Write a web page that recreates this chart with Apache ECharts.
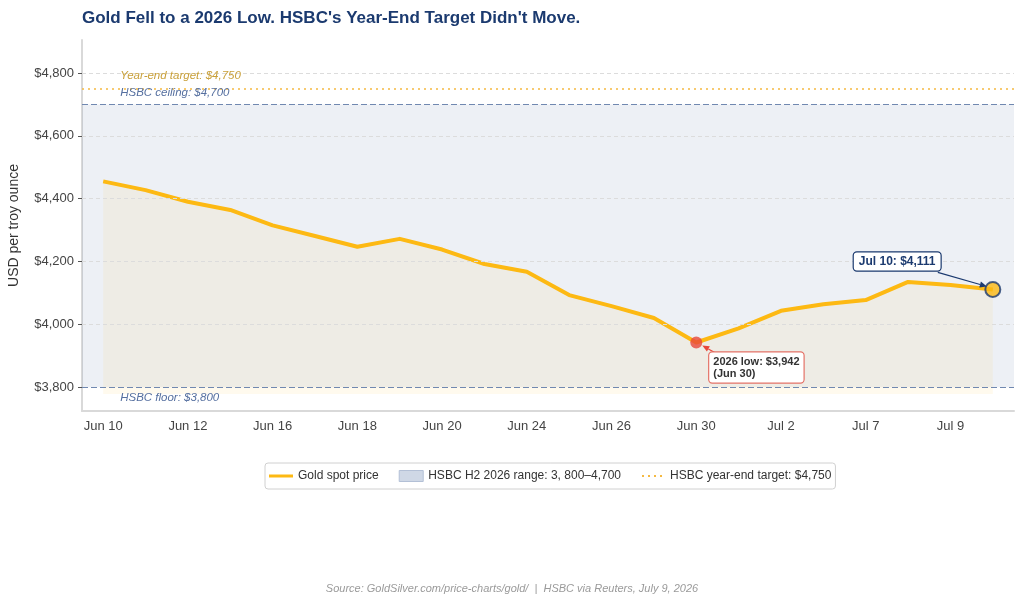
<!DOCTYPE html>
<html>
<head>
<meta charset="utf-8">
<script src="https://cdn.jsdelivr.net/npm/echarts@6/dist/echarts.min.js"></script>
<style>
  html, body { margin: 0; padding: 0; background: #fff; }
  #chart { width: 1024px; height: 604px; }
</style>
</head>
<body>
<div id="chart"></div>
<script>
// data
const dates = ['Jun 10', 'Jun 11', 'Jun 12', 'Jun 15', 'Jun 16', 'Jun 17', 'Jun 18', 'Jun 19', 'Jun 20', 'Jun 23', 'Jun 24',
  'Jun 25', 'Jun 26', 'Jun 29', 'Jun 30', 'Jul 1', 'Jul 2', 'Jul 6', 'Jul 7', 'Jul 8', 'Jul 9', 'Jul 10'];
const prices = [4455, 4427, 4390, 4364, 4315, 4281, 4247, 4272, 4238, 4192, 4167,
  4093, 4058, 4020, 3942, 3987, 4043, 4064, 4077, 4135, 4125, 4111];
const yTicks = [3800, 4000, 4200, 4400, 4600, 4800];
const rangeFloor = 3800;
const rangeCeiling = 4700;
const yearEndTarget = 4750;

const FONT = "'Liberation Sans', Arial, sans-serif";
const GOLD = '#fdb913';
const NAVY = '#1b3a6f';
const RED = '#e8473a';
const BAND_NAME = 'HSBC H2 2026 range: 3, 800\u20134,700';
const TARGET_NAME = 'HSBC year-end target: $4,750';

const fmt = v => '$' + v.toLocaleString('en-US');

const lowIdx = prices.indexOf(Math.min(...prices));
const lastIdx = prices.length - 1;

const chart = echarts.init(document.getElementById('chart'));

const option = {
  animation: false,
  textStyle: { fontFamily: FONT },
  title: [{
    text: "Gold Fell to a 2026 Low. HSBC's Year-End Target Didn't Move.",
    left: 77, top: 5,
    textStyle: { fontSize: 17, fontWeight: 'bold', color: NAVY, fontFamily: FONT }
  }, {
    text: 'Source: GoldSilver.com/price-charts/gold/  |  HSBC via Reuters, July 9, 2026',
    left: 'center', top: 578,
    textStyle: { fontSize: 11, fontWeight: 'normal', fontStyle: 'italic', color: '#9a9a9a', fontFamily: FONT }
  }],
  grid: { left: 82, right: 10, top: 40, bottom: 193, outerBoundsMode: 'none' },
  legend: {
    left: 265, top: 463,
    padding: [7, 4, 7, 4],
    borderColor: '#d0d0d0', borderWidth: 1, borderRadius: 3,
    itemWidth: 24, itemHeight: 11, itemGap: 20,
    textStyle: { fontSize: 12, color: '#333', fontFamily: FONT },
    data: [
      { name: 'Gold spot price', icon: 'path://M0,0M24,11M0,4h24v3h-24z', itemStyle: { color: GOLD } },
      { name: BAND_NAME, icon: 'rect', itemStyle: { color: '#cfd8e6', borderColor: '#b3c0d6', borderWidth: 1 } },
      { name: TARGET_NAME, icon: 'path://M0,0M24,11M1,4.5h2v2h-2zM7,4.5h2v2h-2zM13,4.5h2v2h-2zM19,4.5h2v2h-2z', itemStyle: { color: '#f5b942' } }
    ]
  },
  xAxis: {
    type: 'category',
    data: dates,
    boundaryGap: true,
    axisLine: { lineStyle: { color: '#d9d9d9', width: 2 } },
    axisTick: { alignWithLabel: true, length: 4, lineStyle: { color: '#555' } },
    axisLabel: { interval: 1, fontSize: 13, color: '#444', margin: 9, fontFamily: FONT },
    splitLine: { show: false }
  },
  yAxis: {
    type: 'value',
    min: 3724, max: 4905,
    name: 'USD per troy ounce',
    nameLocation: 'middle',
    nameGap: 61,
    nameTextStyle: { fontSize: 14, color: '#333', fontFamily: FONT },
    axisLine: { show: true, lineStyle: { color: '#d9d9d9', width: 2 } },
    axisTick: { show: true, length: 4, customValues: yTicks, lineStyle: { color: '#555' } },
    axisLabel: { fontSize: 13, color: '#444', margin: 8, customValues: yTicks, formatter: v => fmt(v), fontFamily: FONT },
    splitLine: { show: false }
  },
  series: [
    {
      // band + grid lines
      name: BAND_NAME,
      type: 'line',
      data: [],
      itemStyle: { color: '#cfd8e6' },
      silent: true,
      markArea: {
        silent: true,
        itemStyle: { color: 'rgba(31,61,122,0.08)' },
        data: [[{ yAxis: rangeFloor }, { yAxis: rangeCeiling }]]
      },
      markLine: {
        silent: true,
        symbol: ['none', 'none'],
        label: { show: false },
        lineStyle: { color: '#dcdcdc', type: [4, 3], width: 1 },
        data: yTicks.filter(v => v !== rangeFloor).map(v => ({ yAxis: v }))
      }
    },
    {
      name: TARGET_NAME,
      type: 'line',
      data: [],
      symbol: 'none',
      itemStyle: { color: '#f5b942' },
      lineStyle: { color: '#f5b942', type: 'dotted', width: 2 },
      markLine: {
        silent: true,
        symbol: ['none', 'none'],
        label: { show: false },
        data: [
          { yAxis: yearEndTarget, lineStyle: { color: '#f5b942', type: [2, 4], width: 1.6 } },
          { yAxis: rangeCeiling, lineStyle: { color: '#7088b0', type: [6, 3], width: 1.2 } },
          { yAxis: rangeFloor, lineStyle: { color: '#7088b0', type: [6, 3], width: 1.2 } }
        ]
      }
    },
    {
      name: 'Gold spot price',
      type: 'line',
      data: prices,
      symbol: 'none',
      itemStyle: { color: GOLD },
      lineStyle: { color: GOLD, width: 4, join: 'round' },
      areaStyle: { color: 'rgba(253,185,19,0.1)', origin: 3778 },
      z: 3
    },
    {
      name: 'markers',
      type: 'scatter',
      z: 5,
      silent: true,
      data: [
        { value: [lowIdx, prices[lowIdx]], symbolSize: 12, itemStyle: { color: RED } },
        { value: [lastIdx, prices[lastIdx]], symbolSize: 15, itemStyle: { color: GOLD, borderColor: NAVY, borderWidth: 2 } }
      ]
    }
  ]
};

chart.setOption(option);

function px(i, v) {
  return chart.convertToPixel({ seriesIndex: 2 }, [i, v]);
}

function arrow(from, to, color, width) {
  const dx = to[0] - from[0], dy = to[1] - from[1];
  const len = Math.sqrt(dx * dx + dy * dy);
  const ux = dx / len, uy = dy / len;
  const hl = 7, hw = 3;
  const bx = to[0] - ux * hl, by = to[1] - uy * hl;
  return [
    { type: 'line', z: 20, shape: { x1: from[0], y1: from[1], x2: bx, y2: by }, style: { stroke: color, lineWidth: width } },
    { type: 'polygon', z: 20, shape: { points: [to, [bx - uy * hw, by + ux * hw], [bx + uy * hw, by - ux * hw]] }, style: { fill: color } }
  ];
}

const lowPt = px(lowIdx, prices[lowIdx]);
const lastPt = px(lastIdx, prices[lastIdx]);
const x0 = px(0, prices[0])[0];
const yTarget = px(0, yearEndTarget)[1];
const yCeil = px(0, rangeCeiling)[1];
const yFloor = px(0, rangeFloor)[1];

const note = (text, y, color) => ({
  type: 'text', z: 10, silent: true,
  style: { text: text, x: x0 + 17, y: y, fill: color, font: 'italic 11.5px ' + FONT, textVerticalAlign: 'middle' }
});

const graphic = [
  note('Year-end target: ' + fmt(yearEndTarget), yTarget - 13, '#c9a03a'),
  note('HSBC ceiling: ' + fmt(rangeCeiling), yCeil - 12, '#5670a0'),
  note('HSBC floor: ' + fmt(rangeFloor), yFloor + 11, '#5670a0'),
  {
    type: 'text', z: 21, silent: true,
    style: {
      text: '2026 low: ' + fmt(prices[lowIdx]) + '\n(' + dates[lowIdx] + ')',
      x: lowPt[0] + 13, y: lowPt[1] + 10,
      font: 'bold 11px ' + FONT, fill: '#333', lineHeight: 12,
      backgroundColor: '#fff', borderColor: '#e57368', borderWidth: 1.2, borderRadius: 3,
      padding: [3, 4, 3, 4]
    }
  },
  {
    type: 'text', z: 21, silent: true,
    style: {
      text: dates[lastIdx] + ': ' + fmt(prices[lastIdx]),
      x: lastPt[0] - 139, y: lastPt[1] - 37,
      font: 'bold 12px ' + FONT, fill: NAVY,
      backgroundColor: '#fff', borderColor: NAVY, borderWidth: 1.2, borderRadius: 3,
      padding: [3, 5, 3, 5]
    }
  }
]
  .concat(arrow([lowPt[0] + 22, lowPt[1] + 12], [lowPt[0] + 6, lowPt[1] + 3], RED, 1.2))
  .concat(arrow([lastPt[0] - 55, lastPt[1] - 17], [lastPt[0] - 6, lastPt[1] - 3], NAVY, 1.2));

chart.setOption({ graphic: graphic });

window.onresize = function () {
  chart.resize();
};
</script>
</body>
</html>
